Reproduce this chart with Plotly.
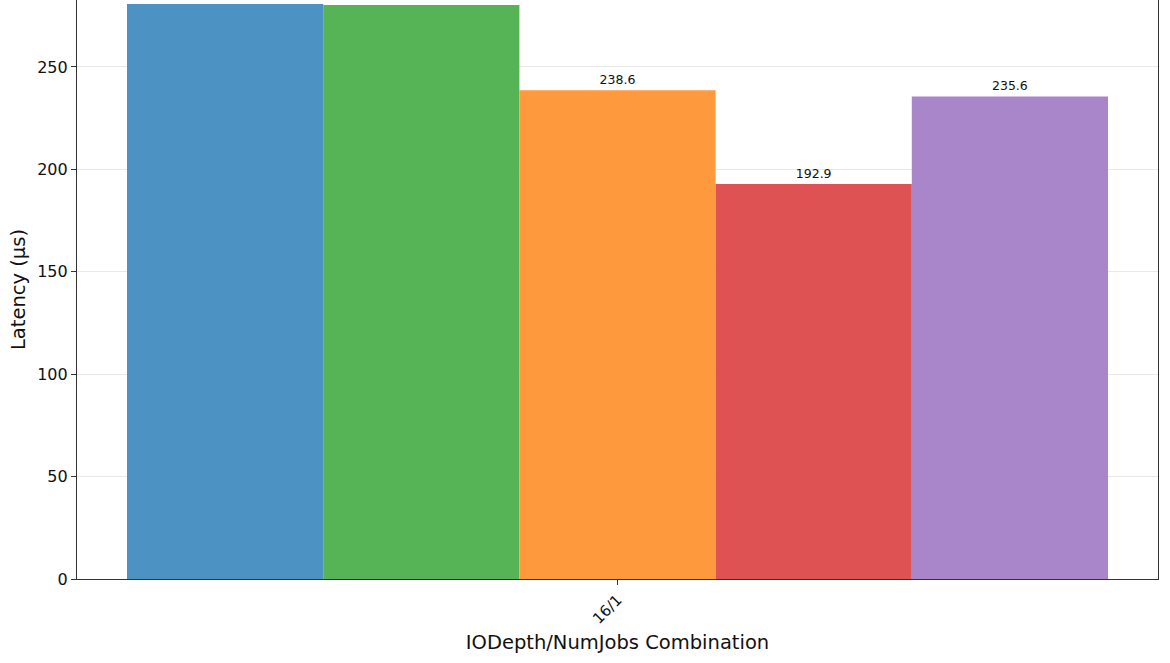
import plotly.graph_objects as go

categories = ["16/1"]
series_names = ["Config 1", "Config 2", "Config 3", "Config 4", "Config 5"]
series_values = [[280.8], [280.3], [238.6], [192.9], [235.6]]
colors = ["#4C92C3", "#56B356", "#FF993E", "#DE5253", "#A985CA"]
y_ticks = [0, 50, 100, 150, 200, 250]
y_top = 282.7

fig = go.Figure()
for name, vals, col in zip(series_names, series_values, colors):
    # value labels of bars that reach past the visible top are cut off in the reference
    labels = [f"{v:.1f}" if v < y_top - 10 else "" for v in vals]
    fig.add_trace(go.Bar(
        x=categories, y=vals, name=name,
        marker=dict(color=col, line=dict(width=0)),
        text=labels,
        textposition="outside",
        textfont=dict(size=12.5, color="#111111", family="DejaVu Sans"),
        cliponaxis=True,
        showlegend=False,
    ))

fig.update_layout(
    width=1170, height=663,
    margin=dict(l=77, r=12, t=0, b=84, autoexpand=False),
    barmode="group",
    bargap=0.0925,
    bargroupgap=0,
    plot_bgcolor="white",
    paper_bgcolor="white",
    font=dict(family="DejaVu Sans", color="#111111"),
)
fig.update_xaxes(
    type="category",
    range=[-0.5, 0.5],
    automargin=False,
    showline=True, linecolor="#333333", linewidth=1.2,
    mirror=False,
    ticks="outside", ticklen=5, tickcolor="#333333",
    tickangle=-45,
    tickfont=dict(size=15),
    showgrid=False,
    title=dict(text="IODepth/NumJobs Combination", font=dict(size=19.5), standoff=8),
)
fig.update_yaxes(
    range=[0, y_top],
    tickvals=y_ticks,
    automargin=False,
    showline=True, linecolor="#333333", linewidth=1.2,
    mirror=True,
    ticks="outside", ticklen=5, tickcolor="#333333",
    tickfont=dict(size=16),
    showgrid=True, gridcolor="rgba(190,190,190,0.35)", gridwidth=1,
    zeroline=False,
    title=dict(text="Latency (μs)", font=dict(size=19.5), standoff=6),
)

fig.write_html(
    "out.html",
    config={"displayModeBar": False},
    post_script="document.body.style.margin='0';",
)
